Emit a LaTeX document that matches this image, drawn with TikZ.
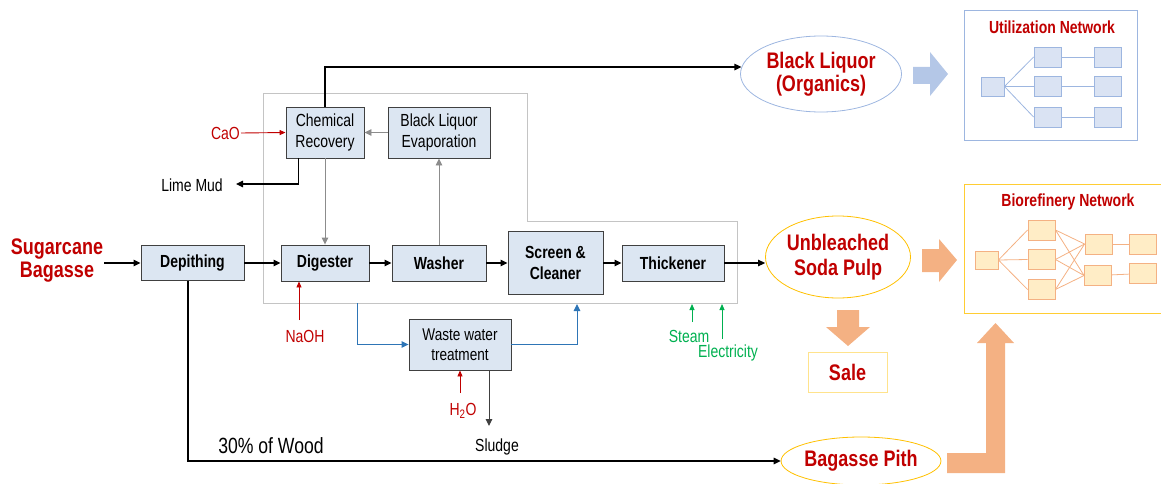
\documentclass[tikz,border=0pt]{standalone}
\usepackage{fontspec}
\setmainfont{Liberation Sans}[FakeStretch=0.8]
\usetikzlibrary{arrows.meta,shapes.geometric,calc}
\definecolor{dkred}{HTML}{C00000}
\definecolor{grn}{HTML}{00B050}
\definecolor{flowblue}{HTML}{2E75B6}
\definecolor{boxfill}{HTML}{DCE6F2}
\definecolor{boxline}{HTML}{404040}
\definecolor{framegray}{HTML}{C4C4C4}
\definecolor{linegray}{HTML}{8C8C8C}
\definecolor{peach}{HTML}{F4B183}
\definecolor{peachfill}{HTML}{FFEDC6}
\definecolor{gold}{HTML}{FFC000}
\definecolor{paleblue}{HTML}{B4C7E7}
\definecolor{netblue}{HTML}{9DB6E0}
\definecolor{netfill}{HTML}{DAE3F3}
\begin{document}
\begin{tikzpicture}[x=1pt,y=-1pt,
  proc/.style={draw=boxline, fill=boxfill, line width=0.9pt, inner sep=0pt,
    align=center, font=\fontsize{17.5}{21}\selectfont},
  bproc/.style={proc, font=\fontsize{17.5}{21}\selectfont\bfseries},
  lbl/.style={inner sep=1pt, font=\fontsize{17.5}{19}\selectfont},
  redlbl/.style={lbl, text=dkred},
  grnlbl/.style={lbl, text=grn},
  bigred/.style={inner sep=1pt, align=center, text=dkred,
    font=\fontsize{22.5}{23}\selectfont\bfseries},
  tip/.style={-{Triangle[length=7pt,width=6.5pt]}},
  flow/.style={tip, draw=black, line width=1.2pt},
  gflow/.style={tip, draw=linegray, line width=0.9pt},
  bflow/.style={tip, draw=flowblue, line width=1pt},
  rflow/.style={-{Triangle[length=6pt,width=5pt]}, draw=dkred, line width=0.9pt},
  gnflow/.style={-{Triangle[length=6pt,width=5pt]}, draw=grn, line width=0.9pt},
  unet/.style={draw=netblue, fill=netfill, line width=0.9pt, inner sep=0pt,
    minimum width=27pt, minimum height=20pt},
  bnet/.style={draw=peach, fill=peachfill, line width=0.9pt, inner sep=0pt,
    minimum width=27pt, minimum height=20pt},
  ulink/.style={draw=netblue, line width=0.8pt},
  blink/.style={draw=peach, line width=0.8pt},
  nettitle/.style={text=dkred, font=\fontsize{17.5}{19}\selectfont\bfseries}
]
\useasboundingbox (0,0) rectangle (1161,484);

% pulping mill boundary
\draw[framegray, line width=1pt]
  (263,94) -- (527,94) -- (527,221) -- (737,221) -- (737,303) -- (263,303) -- cycle;

% process units
\node[bproc, minimum width=103pt, minimum height=35pt] (dep) at (192.5,263) {Depithing};
\node[bproc, minimum width=88pt, minimum height=36pt] (dig) at (325,263) {Digester};
\node[bproc, minimum width=94pt, minimum height=36pt] (wash) at (439,263) {Washer};
\node[bproc, minimum width=95pt, minimum height=63pt] (scr) at (555.5,263) {Screen \&\\Cleaner};
\node[bproc, minimum width=102pt, minimum height=36pt] (thk) at (673,263) {Thickener};
\node[proc, minimum width=78pt, minimum height=51pt] (chem) at (325,132.5) {Chemical\\Recovery};
\node[proc, minimum width=102pt, minimum height=51pt] (ble) at (439,132.5) {Black Liquor\\Evaporation};
\node[proc, minimum width=102pt, minimum height=51pt, font=\fontsize{17}{20}\selectfont] (ww) at (460,344.5) {Waste water\\treatment};

% products
\node[bigred] (src) at (57,261) {Sugarcane\\Bagasse};
\node[bigred, ellipse, draw=netblue, line width=0.8pt, minimum width=161pt, minimum height=76pt, inner sep=0pt] (blq) at (821,74) {Black Liquor\\(Organics)};
\node[bigred, ellipse, draw=gold, line width=0.8pt, minimum width=145pt, minimum height=82pt, inner sep=0pt, font=\fontsize{22.5}{25}\selectfont\bfseries] (pulp) at (838,257) {Unbleached\\Soda Pulp};
\node[bigred, ellipse, draw=gold, line width=0.8pt, minimum width=145pt, minimum height=48pt, inner sep=0pt] (pith) at (861,461) {Bagasse Pith};
\node[bigred, draw=gold!45, line width=0.9pt, minimum width=79pt, minimum height=40pt] (sale) at (847.5,372) {Sale};

% side labels
\node[redlbl, anchor=east] (cao) at (241,133) {CaO};
\node[lbl, anchor=east] (lime) at (224,185) {Lime Mud};
\node[redlbl] (naoh) at (305,336) {NaOH};
\node[redlbl] (h2o) at (463,411) {H\textsubscript{2}O};
\node[lbl] (sludge) at (497,447) {Sludge};
\node[grnlbl] (steam) at (689,336) {Steam};
\node[grnlbl] (elec) at (728,353) {Electricity};
\node[lbl, font=\fontsize{22}{24}\selectfont] (wood) at (271,446) {30\% of Wood};

% free ends of the side streams
\coordinate (naohin) at (299,320);
\coordinate (h2oin) at (460,393);
\coordinate (sludgeout) at (489,426);
\coordinate (steamin) at (692,322);
\coordinate (steamto) at (692,304);
\coordinate (elecin) at (722,339);
\coordinate (electo) at (722,304);
\coordinate (wwout) at (357,303);
\coordinate (wwret) at (577,304);
\coordinate (limeto) at (236,184);

% main line
\draw[flow] (dep.west -| src.east) -- (dep.west);
\draw[flow] (dep.east) -- (dig.west);
\draw[flow] (dig.east) -- (wash.west);
\draw[flow] (wash.east) -- (scr.west);
\draw[flow] (scr.east) -- (thk.west);
\draw[flow] (thk.east) -- (thk.east -| pulp.west);
\draw[flow] ($(dep.south west)!0.456!(dep.south east)$) |- (pith.west);
\draw[flow] (chem.north) |- (blq.175);
\draw[flow] ($(chem.south west)!0.167!(chem.south east)$) |- (limeto);

% liquor loop
\draw[gflow] (chem.south) -- (dig.north);
\draw[gflow] (ble.west) -- (chem.east);
\draw[gflow] (wash.north) -- (ble.south);

% chemicals and utilities
\draw[rflow] (cao.east) -- (chem.west);
\draw[rflow] (naohin) -- (naohin |- dig.south);
\draw[rflow] (h2oin) -- (ww.south);
\draw[tip, draw=boxline, line width=1pt] (ww.south -| sludgeout) -- (sludgeout);
\draw[gnflow] (steamin) -- (steamto);
\draw[gnflow] (elecin) -- (electo);

% waste water loop
\draw[bflow] (wwout) |- (ww.west);
\draw[bflow] (ww.east) -| (wwret);

% block arrows
\fill[paleblue] (913,67) -- (930,67) -- (930,52) -- (948,74) -- (930,96) -- (930,84) -- (913,84) -- cycle;
\fill[peach] (922,249) -- (939,249) -- (939,239) -- (957,260) -- (939,282) -- (939,272) -- (922,272) -- cycle;
\fill[peach] (837,310) -- (859,310) -- (859,327) -- (870,327) -- (848,346) -- (826,327) -- (837,327) -- cycle;
\fill[peach] (947,453) -- (986,453) -- (986,343) -- (977,343) -- (995.5,323) -- (1014,343) -- (1005,343) -- (1005,473) -- (947,473) -- cycle;

% utilization network
\draw[netblue, line width=1pt] (964,11) rectangle (1137,140);
\node[nettitle] (utitle) at (1052,27) {Utilization Network};
\node[unet, minimum width=23pt, minimum height=19pt] (u0) at (992.5,86.5) {};
\node[unet] (u1) at (1047.5,57) {};
\node[unet] (u2) at (1047.5,86.5) {};
\node[unet] (u3) at (1047.5,117) {};
\node[unet] (v1) at (1107.5,57) {};
\node[unet] (v2) at (1107.5,86.5) {};
\node[unet] (v3) at (1107.5,117) {};
\foreach \m in {u1,u2,u3} \draw[ulink] (u0.east) -- (\m.west);
\draw[ulink] (u1) -- (v1);
\draw[ulink] (u2) -- (v2);
\draw[ulink] (u3) -- (v3);

% biorefinery network
\draw[gold!80, line width=1pt] (1161,184) -- (964,184) -- (964,313) -- (1161,313);
\node[nettitle] (btitle) at (1068,202) {Biorefinery Network};
\node[bnet, minimum width=23pt, minimum height=18pt] (b0) at (986.5,260) {};
\node[bnet] (b1) at (1041.5,230) {};
\node[bnet] (b2) at (1041.5,259.5) {};
\node[bnet] (b3) at (1041.5,289.5) {};
\node[bnet] (c1) at (1098.5,244) {};
\node[bnet] (c2) at (1098,275.5) {};
\node[bnet] (d1) at (1142.5,244) {};
\node[bnet] (d2) at (1142.5,273.5) {};
\foreach \m in {b1,b2,b3} {
  \draw[blink] (b0.east) -- (\m.west);
  \draw[blink] (\m.east) -- (c1.west);
  \draw[blink] (\m.east) -- (c2.west);
}
\draw[blink] (c1) -- (d1);
\draw[blink] (c2) -- (d2);
\end{tikzpicture}
\end{document}
